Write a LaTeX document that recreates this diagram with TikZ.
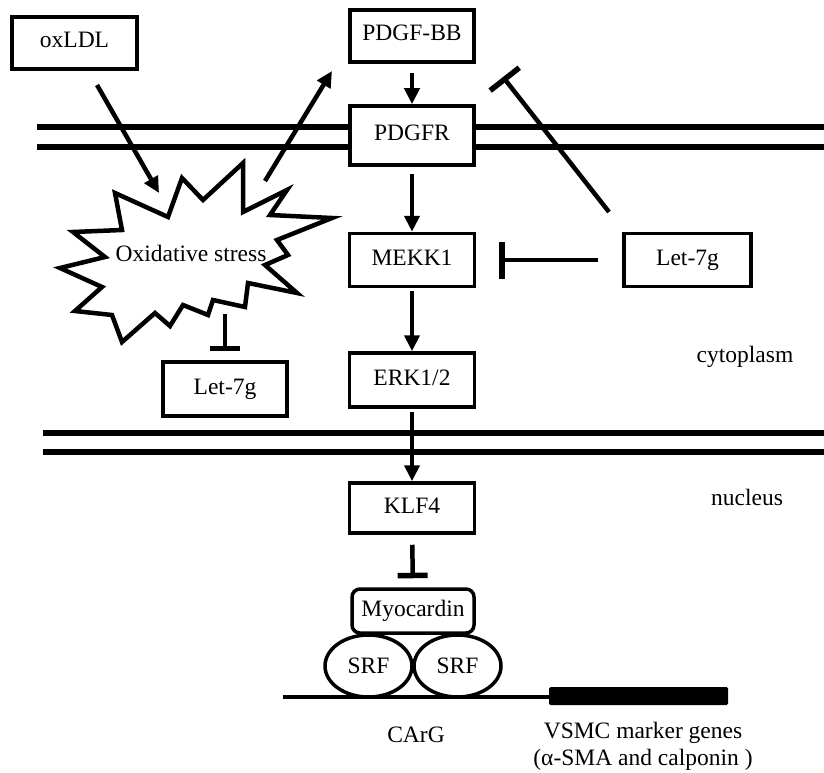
\documentclass[tikz,border=0pt]{standalone}
\usepackage{fontspec}
\setmainfont{Liberation Serif}
\usetikzlibrary{arrows.meta,shapes.geometric}
\tikzset{
  txt/.style={font=\fontsize{23.5}{27}\selectfont, inner sep=0pt},
  box/.style={draw, line width=3.5pt, fill=white, font=\fontsize{23.5}{27}\selectfont, inner sep=0pt, text height=15pt, text depth=5pt},
  arr/.style={line width=4.5pt, -{Triangle[length=16pt,width=15pt]}},
  inh/.style={line width=4.5pt, -{Bar[width=30pt,line width=5.5pt]}},
  inhw/.style={line width=4.5pt, -{Bar[width=37pt,line width=5.5pt]}},
  mem/.style={line width=5.5pt},
  starline/.style={line width=4.5pt, line join=miter, fill=white},
  srf/.style={ellipse, draw, line width=3.5pt, fill=white, inner sep=0pt, minimum width=87pt, minimum height=62pt, font=\fontsize{23.5}{27}\selectfont}
}
\begin{document}
\begin{tikzpicture}[x=1pt,y=-1pt]
\useasboundingbox (0,0) rectangle (824,773);
% membranes
\draw[mem] (37,127) -- (824,127);
\draw[mem] (37,147) -- (824,147);
\draw[mem] (43,433) -- (824,433);
\draw[mem] (43,452) -- (824,452);
% star
\draw[starline] (115,193) -- (168,217) -- (182,178) -- (203,200) -- (243,163) -- (243,212) -- (287,190) -- (270,215) -- (332,218) -- (277,240) -- (288,255) -- (265,265) -- (297,293) -- (248,283) -- (245,307) -- (213,300) -- (208,315) -- (183,305) -- (170,326) -- (155,313) -- (122,342) -- (112,315) -- (75,311) -- (102,287) -- (60,268) -- (105,257) -- (73,232) -- (122,230) -- cycle;
\node[txt] (stress) at (191,253) {Oxidative stress};
% boxes
\node[box, minimum width=125pt, minimum height=52pt] (ox) at (74.5,43) {oxLDL};
\node[box, minimum width=124pt, minimum height=52pt] (pdgf) at (412,36) {PDGF-BB};
\node[box, minimum width=124pt, minimum height=59pt] (pdgfr) at (412,135.5) {PDGFR};
\node[box, minimum width=125pt, minimum height=53pt] (mekk) at (412,260) {MEKK1};
\node[box, minimum width=125pt, minimum height=54pt] (erk) at (412,380) {ERK1/2};
\node[box, minimum width=125pt, minimum height=50pt] (klf) at (412,508) {KLF4};
\node[box, minimum width=124pt, minimum height=54pt] (let7l) at (225,389) {Let-7g};
\node[box, minimum width=127pt, minimum height=53pt] (let7r) at (687.5,260) {Let-7g};
\node[box, rounded corners=8pt, minimum width=122pt, minimum height=44pt] (myo) at (413,611) {Myocardin};
% DNA
\draw[line width=4.5pt] (283,697) -- (549,697);
\fill[rounded corners=1.5pt] (549,687) rectangle (728,705);
\node[srf] (srf1) at (368.5,666) {SRF};
\node[srf] (srf2) at (457.5,666) {SRF};
% labels
\node[txt] (carg) at (416,735) {CArG};
\node[txt] (vsmc) at (643,733) {VSMC marker genes};
\node[txt] (vsmc2) at (643,760) {(α-SMA and calponin )};
\node[txt] (cyto) at (745,357) {cytoplasm};
\node[txt] (nuc) at (747,497) {nucleus};
% connectors
\coordinate (a1) at (97,85);
\coordinate (a2) at (159,193);
\coordinate (b1) at (265,181);
\coordinate (b2) at (332,71);
\coordinate (d1) at (609,212);
\coordinate (d2) at (503,77);
\coordinate (s1) at (225,314);
\draw[arr] (a1) -- (a2);
\draw[arr] (b1) -- (b2);
\draw[arr, shorten <=9pt] (pdgf) -- (pdgfr);
\draw[arr, shorten <=7pt] (pdgfr) -- (mekk);
\draw[arr, shorten <=3pt] (mekk) -- (erk);
\draw[arr, shorten <=3pt] (erk) -- (klf);
\draw[inh, shorten <=10pt, shorten >=9pt] (klf) -- (myo);
\draw[inhw, shorten <=24pt, shorten >=23pt] (let7r) -- (mekk);
\draw[inhw] (d1) -- (d2);
\draw[inh, shorten >=9pt] (s1) -- (let7l);
\end{tikzpicture}
\end{document}
